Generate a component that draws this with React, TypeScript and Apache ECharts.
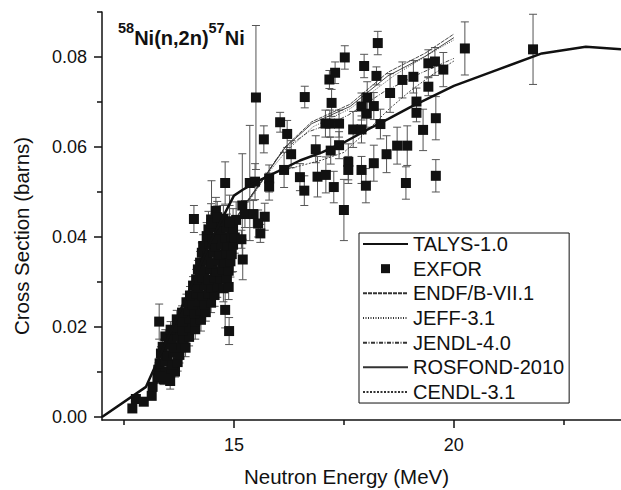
import React, { useEffect, useRef } from 'react';
import * as echarts from 'echarts';

const FONT = '"Liberation Sans", Arial, Helvetica, sans-serif';

// Axis tick values
const xMajorTicks = [15, 20];
const xMinorTicks = [12.5, 17.5, 22.5];
const yMajorTicks = [0, 0.02, 0.04, 0.06, 0.08];
const yMinorTicks = [0.01, 0.03, 0.05, 0.07, 0.09];

// TALYS-1.0
const talysE = [12.0, 13.0, 14.0, 14.5, 15.0, 15.2, 15.6, 16.0, 16.5, 17.0, 17.5, 18.0, 18.5, 19.0, 19.5, 20.0, 21.0, 22.0, 23.0, 23.8];
const talysXS = [0, 0.0067, 0.0285, 0.0397, 0.0492, 0.0505, 0.0527, 0.0546, 0.0570, 0.0588, 0.0610, 0.0637, 0.0662, 0.0688, 0.0712, 0.0736, 0.0772, 0.0808, 0.0823, 0.0817];

// Evaluated libraries
const endfE = [13.0, 13.5, 14.0, 14.5, 15.0, 15.3, 15.7, 16.16, 16.77, 17.64, 18.5, 19.34, 20.0];
const endfXS = [0.0035, 0.0118, 0.0225, 0.0335, 0.0433, 0.0478, 0.0534, 0.0600, 0.0656, 0.0695, 0.0766, 0.0808, 0.0851];
const jeffE = [13.0, 13.5, 14.0, 14.5, 15.0, 15.3, 15.7, 16.2, 16.8, 17.64, 18.66, 19.64, 20.0];
const jeffXS = [0.0034, 0.0116, 0.0222, 0.0332, 0.0430, 0.0476, 0.0533, 0.0592, 0.0645, 0.0685, 0.0760, 0.0818, 0.0838];
const jendlE = [13.0, 13.5, 14.0, 14.5, 15.0, 15.3, 15.7, 16.0, 16.3, 16.7, 17.2, 17.6, 18.4, 19.2, 20.0];
const jendlXS = [0.0036, 0.0120, 0.0228, 0.0338, 0.0436, 0.0480, 0.0534, 0.0578, 0.0606, 0.0634, 0.0652, 0.0671, 0.0722, 0.0762, 0.0797];
const rosfondE = [13.0, 13.5, 14.0, 14.5, 15.0, 15.3, 15.7, 16.16, 16.77, 17.64, 18.5, 19.34, 20.0];
const rosfondXS = [0.0035, 0.0118, 0.0226, 0.0336, 0.0434, 0.0479, 0.0534, 0.0598, 0.0652, 0.0690, 0.0758, 0.0801, 0.0843];
const cendlE = [13.0, 13.5, 14.0, 14.5, 15.0, 15.3, 15.7, 16.0, 16.5, 17.0, 17.5, 18.0, 18.5, 19.0, 19.5, 20.0];
const cendlXS = [0.0033, 0.0114, 0.0220, 0.0330, 0.0428, 0.0474, 0.0532, 0.0545, 0.0558, 0.0571, 0.0588, 0.0633, 0.0682, 0.0724, 0.0760, 0.0791];

// EXFOR: dense group of measurements around 14 MeV
const clusterE = [
  13.26, 13.40, 13.52,
  13.28, 13.44, 13.58, 13.66,
  13.31, 13.45, 13.60, 13.72,
  13.34, 13.48, 13.62, 13.76,
  13.38, 13.52, 13.66, 13.80, 13.90,
  13.44, 13.58, 13.72, 13.86, 13.98,
  13.56, 13.70, 13.84, 13.98, 14.12,
  13.70, 13.84, 13.98, 14.12, 14.25,
  13.82, 13.96, 14.10, 14.24, 14.36,
  13.92, 14.06, 14.20, 14.34, 14.48,
  14.00, 14.14, 14.28, 14.42, 14.56,
  14.07, 14.20, 14.34, 14.48, 14.62, 14.76, 14.88,
  14.14, 14.28, 14.42, 14.56, 14.70, 14.84,
  14.18, 14.32, 14.46, 14.60, 14.74, 14.88,
  14.23, 14.36, 14.50, 14.64, 14.78, 14.92,
  14.27, 14.40, 14.54, 14.68, 14.82, 14.95,
  14.30, 14.44, 14.58, 14.72, 14.86, 14.98,
  14.38, 14.52, 14.66, 14.80, 14.94, 15.02,
  14.42, 14.56, 14.70, 14.84, 14.98,
  14.48, 14.62, 14.76, 14.90, 15.05,
];
const clusterXS = [
  0.0088, 0.0084, 0.0090,
  0.0105, 0.0100, 0.0107, 0.0101,
  0.0119, 0.0124, 0.0117, 0.0122,
  0.0141, 0.0136, 0.0143, 0.0138,
  0.0156, 0.0161, 0.0155, 0.0160, 0.0154,
  0.0179, 0.0174, 0.0180, 0.0175, 0.0178,
  0.0194, 0.0199, 0.0193, 0.0198, 0.0195,
  0.0217, 0.0212, 0.0218, 0.0213, 0.0216,
  0.0232, 0.0237, 0.0231, 0.0236, 0.0233,
  0.0255, 0.0250, 0.0256, 0.0251, 0.0254,
  0.0270, 0.0275, 0.0269, 0.0274, 0.0271,
  0.0292, 0.0287, 0.0293, 0.0288, 0.0291, 0.0286, 0.0289,
  0.0306, 0.0311, 0.0305, 0.0310, 0.0307, 0.0309,
  0.0328, 0.0323, 0.0329, 0.0324, 0.0327, 0.0325,
  0.0343, 0.0348, 0.0342, 0.0347, 0.0344, 0.0346,
  0.0365, 0.0360, 0.0366, 0.0361, 0.0364, 0.0362,
  0.0380, 0.0385, 0.0379, 0.0384, 0.0381, 0.0383,
  0.0402, 0.0397, 0.0403, 0.0398, 0.0401, 0.0399,
  0.0417, 0.0422, 0.0416, 0.0421, 0.0418,
  0.0439, 0.0434, 0.0440, 0.0435, 0.0438,
];
const clusterErr = [
  0.0012, 0.0012, 0.0015,
  0.0015, 0.0012, 0.0018, 0.0012,
  0.0012, 0.0015, 0.0012, 0.0020,
  0.0015, 0.0012, 0.0015, 0.0018,
  0.0015, 0.0012, 0.0018, 0.0015, 0.0020,
  0.0015, 0.0018, 0.0012, 0.0015, 0.0020,
  0.0018, 0.0015, 0.0012, 0.0015, 0.0022,
  0.0020, 0.0015, 0.0015, 0.0012, 0.0025,
  0.0015, 0.0018, 0.0015, 0.0012, 0.0020,
  0.0018, 0.0015, 0.0020, 0.0015, 0.0022,
  0.0020, 0.0015, 0.0018, 0.0015, 0.0025,
  0.0020, 0.0018, 0.0015, 0.0020, 0.0025, 0.0030, 0.0028,
  0.0022, 0.0018, 0.0020, 0.0015, 0.0025, 0.0030,
  0.0020, 0.0025, 0.0018, 0.0022, 0.0028, 0.0030,
  0.0025, 0.0020, 0.0022, 0.0018, 0.0030, 0.0035,
  0.0022, 0.0025, 0.0020, 0.0028, 0.0030, 0.0040,
  0.0025, 0.0030, 0.0022, 0.0025, 0.0035, 0.0060,
  0.0030, 0.0025, 0.0030, 0.0028, 0.0040, 0.0035,
  0.0040, 0.0030, 0.0035, 0.0030, 0.0045,
  0.0035, 0.0045, 0.0030, 0.0035, 0.0040,
];

// EXFOR: individual measurements
const scatterE = [
  12.69, 12.77, 12.95, 13.13, 13.15, 13.30, 13.55, 13.30, 14.89, 14.80,
  15.20, 15.17, 15.60, 14.09, 14.59, 14.80, 15.50, 15.68, 16.05, 16.21,
  16.30, 16.14, 16.50, 16.60, 16.61, 15.80, 15.80, 15.36, 15.48, 15.19,
  15.25, 15.44, 15.70, 15.55, 14.49, 14.62, 14.90, 16.86, 16.90, 17.09,
  17.08, 17.18, 17.39, 17.20, 17.39, 17.27, 17.50, 17.22, 17.17, 17.30,
  17.52, 17.60, 17.60, 17.71, 17.90, 17.90, 18.02, 18.03, 18.18, 17.96,
  18.24, 18.27, 17.90, 18.00, 18.18, 18.33, 18.47, 18.55, 18.71, 18.83,
  18.91, 18.94, 19.08, 19.15, 19.15, 19.30, 19.42, 19.42, 19.57, 19.59,
  19.59, 19.76, 20.25, 21.80,
];
const scatterXS = [
  0.0019, 0.0040, 0.0034, 0.0047, 0.0067, 0.0091, 0.0080, 0.0212, 0.0191, 0.0238,
  0.0350, 0.0395, 0.0408, 0.0440, 0.0458, 0.0520, 0.0710, 0.0617, 0.0655, 0.0629,
  0.0584, 0.0549, 0.0533, 0.0503, 0.0711, 0.0530, 0.0512, 0.0520, 0.0523, 0.0470,
  0.0451, 0.0451, 0.0445, 0.0430, 0.0430, 0.0444, 0.0433, 0.0595, 0.0534, 0.0538,
  0.0652, 0.0652, 0.0652, 0.0592, 0.0604, 0.0511, 0.0460, 0.0698, 0.0750, 0.0765,
  0.0799, 0.0567, 0.0549, 0.0639, 0.0639, 0.0690, 0.0674, 0.0710, 0.0691, 0.0780,
  0.0758, 0.0831, 0.0549, 0.0514, 0.0564, 0.0651, 0.0584, 0.0720, 0.0603, 0.0749,
  0.0520, 0.0603, 0.0756, 0.0701, 0.0676, 0.0638, 0.0734, 0.0786, 0.0790, 0.0664,
  0.0536, 0.0772, 0.0819, 0.0817,
];
const scatterErr = [
  0.0005, 0.0006, 0.0006, 0.0008, 0.0010, 0.0015, 0.0018, 0.0039, 0.0030, 0.0040,
  0.0045, 0.0020, 0.0020, 0.0030, 0.0030, 0.0047, 0.0160, 0.0030, 0.0022, 0.0030,
  0.0030, 0.0039, 0.0030, 0.0033, 0.0024, 0.0030, 0.0030, 0.0128, 0.0040, 0.0115,
  0.0030, 0.0030, 0.0030, 0.0030, 0.0095, 0.0025, 0.0060, 0.0030, 0.0045, 0.0040,
  0.0030, 0.0030, 0.0030, 0.0030, 0.0030, 0.0035, 0.0068, 0.0030, 0.0020, 0.0024,
  0.0026, 0.0040, 0.0030, 0.0040, 0.0030, 0.0030, 0.0030, 0.0035, 0.0030, 0.0026,
  0.0020, 0.0026, 0.0030, 0.0038, 0.0040, 0.0033, 0.0041, 0.0043, 0.0041, 0.0040,
  0.0036, 0.0044, 0.0036, 0.0030, 0.0020, 0.0046, 0.0020, 0.0030, 0.0031, 0.0048,
  0.0036, 0.0038, 0.0059, 0.0078,
];

const pairs = (xs: number[], ys: number[]) => xs.map((x, i) => [x, ys[i]]);

export default function App() {
  const ref = useRef<HTMLDivElement>(null);

  useEffect(() => {
    if (!ref.current) return;
    const chart = echarts.init(ref.current, null, { renderer: 'svg' });

    const exE = [...clusterE, ...scatterE];
    const exXS = [...clusterXS, ...scatterXS];
    const exErr = [...clusterErr, ...scatterErr];
    const exforPoints = pairs(exE, exXS);
    const errData = exE.map((e, i) => [e, exXS[i] - exErr[i], exXS[i] + exErr[i]]);

    const libLine = (name: string, xs: number[], ys: number[], type: any) => ({
      type: 'line',
      name,
      data: pairs(xs, ys),
      symbol: 'none',
      xAxisIndex: 0,
      yAxisIndex: 0,
      z: 2,
      lineStyle: { color: '#333', width: 0.9, type },
      itemStyle: { color: '#333' },
    });

    const noSymbol = { color: 'rgba(0,0,0,0)', opacity: 0, borderWidth: 0 };

    chart.setOption({
      animation: false,
      backgroundColor: '#fff',
      grid: { left: 102, right: 0, top: 12, bottom: 70, containLabel: false, outerBoundsMode: 'none' },
      xAxis: [
        {
          type: 'value',
          min: 12,
          max: 23.8,
          position: 'bottom',
          splitLine: { show: false },
          axisLine: { show: true, onZero: false, lineStyle: { color: '#111', width: 1.5 } },
          axisTick: { show: true, customValues: xMajorTicks, length: 8, lineStyle: { color: '#111', width: 1.5 } },
          axisLabel: { customValues: xMajorTicks, formatter: (v: number) => String(v), fontSize: 18, fontFamily: FONT, color: '#111', margin: 16 },
          name: 'Neutron Energy (MeV)',
          nameLocation: 'middle',
          nameGap: 46,
          nameTextStyle: { fontSize: 20.5, fontFamily: FONT, color: '#111', padding: [0, 30, 0, 0] },
        },
        {
          type: 'value',
          min: 12,
          max: 23.8,
          position: 'bottom',
          splitLine: { show: false },
          axisLine: { show: false, onZero: false },
          axisTick: { show: true, customValues: xMinorTicks, length: 5, lineStyle: { color: '#111', width: 1.5 } },
          axisLabel: { show: false },
        },
      ],
      yAxis: [
        {
          type: 'value',
          min: -0.000667,
          max: 0.09,
          position: 'left',
          splitLine: { show: false },
          axisLine: { show: true, onZero: false, lineStyle: { color: '#111', width: 1.5 } },
          axisTick: { show: true, customValues: yMajorTicks, length: 8, lineStyle: { color: '#111', width: 1.5 } },
          axisLabel: { customValues: yMajorTicks, formatter: (v: number) => v.toFixed(2), fontSize: 18, fontFamily: FONT, color: '#111', margin: 15 },
          name: 'Cross Section (barns)',
          nameLocation: 'middle',
          nameGap: 70,
          nameTextStyle: { fontSize: 20.5, fontFamily: FONT, color: '#111', padding: [0, 40, 0, 0] },
        },
        {
          type: 'value',
          min: -0.000667,
          max: 0.09,
          position: 'left',
          splitLine: { show: false },
          axisLine: { show: false, onZero: false },
          axisTick: { show: true, customValues: yMinorTicks, length: 5, lineStyle: { color: '#111', width: 1.5 } },
          axisLabel: { show: false },
        },
      ],
      legend: {
        orient: 'vertical',
        left: 359,
        top: 233,
        padding: [1, 5, 1, 3],
        itemGap: 4.67,
        itemWidth: 45,
        itemHeight: 9,
        borderColor: '#111',
        borderWidth: 1,
        backgroundColor: '#fff',
        textStyle: { fontSize: 20, fontFamily: FONT, color: '#111', lineHeight: 20 },
        data: [
          { name: 'TALYS-1.0', itemStyle: noSymbol },
          { name: 'EXFOR', icon: 'path://M0,0h10v10h-10z' },
          { name: 'ENDF/B-VII.1', itemStyle: noSymbol },
          { name: 'JEFF-3.1', itemStyle: noSymbol },
          { name: 'JENDL-4.0', itemStyle: noSymbol },
          { name: 'ROSFOND-2010', itemStyle: noSymbol },
          { name: 'CENDL-3.1', itemStyle: noSymbol },
        ],
      },
      graphic: [
        {
          type: 'text',
          left: 118,
          top: 20,
          z: 100,
          style: {
            text: '{s|58}{m|Ni(n,2n)}{s|57}{m|Ni}',
            rich: {
              s: { fontSize: 14.5, fontWeight: 'bold', fontFamily: FONT, fill: '#111', lineHeight: 15, verticalAlign: 'top' },
              m: { fontSize: 20, fontWeight: 'bold', fontFamily: FONT, fill: '#111', lineHeight: 20, padding: [8, 0, 0, 0], verticalAlign: 'top' },
            },
          },
        },
      ],
      series: [
        {
          type: 'custom',
          name: 'EXFOR uncertainty',
          xAxisIndex: 0,
          yAxisIndex: 0,
          z: 1,
          silent: true,
          data: errData,
          encode: { x: 0, y: [1, 2] },
          renderItem: (_params: any, api: any) => {
            const e = api.value(0);
            const top = api.coord([e, api.value(2)]);
            const bot = api.coord([e, api.value(1)]);
            const cap = 4;
            const st = { stroke: '#555', lineWidth: 1 };
            return {
              type: 'group',
              children: [
                { type: 'line', shape: { x1: top[0], y1: top[1], x2: bot[0], y2: bot[1] }, style: st },
                { type: 'line', shape: { x1: top[0] - cap, y1: top[1], x2: top[0] + cap, y2: top[1] }, style: st },
                { type: 'line', shape: { x1: bot[0] - cap, y1: bot[1], x2: bot[0] + cap, y2: bot[1] }, style: st },
              ],
            };
          },
        },
        libLine('ENDF/B-VII.1', endfE, endfXS, [4, 1]),
        libLine('JEFF-3.1', jeffE, jeffXS, [1, 1.5]),
        libLine('JENDL-4.0', jendlE, jendlXS, [4, 1.5, 1, 1.5]),
        libLine('ROSFOND-2010', rosfondE, rosfondXS, 'solid'),
        libLine('CENDL-3.1', cendlE, cendlXS, [2, 1.5]),
        {
          type: 'scatter',
          name: 'EXFOR',
          data: exforPoints,
          symbol: 'rect',
          symbolSize: 10,
          xAxisIndex: 0,
          yAxisIndex: 0,
          z: 3,
          itemStyle: { color: '#111', opacity: 1 },
        },
        {
          type: 'line',
          name: 'TALYS-1.0',
          data: pairs(talysE, talysXS),
          symbol: 'none',
          xAxisIndex: 0,
          yAxisIndex: 0,
          z: 4,
          lineStyle: { color: '#111', width: 2.5 },
          itemStyle: { color: '#111' },
        },
      ],
    });

    return () => chart.dispose();
  }, []);

  return (
    <div
      ref={ref}
      style={{ position: 'absolute', left: 0, top: 0, width: 621, height: 490, background: '#fff' }}
    />
  );
}
